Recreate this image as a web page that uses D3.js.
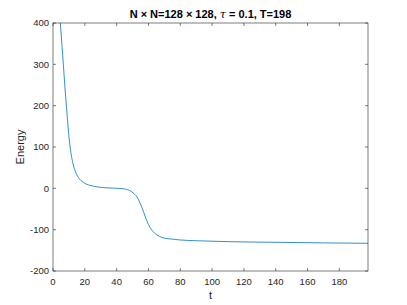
<!DOCTYPE html>
<html>
<head>
<meta charset="utf-8">
<script src="https://cdn.jsdelivr.net/npm/d3@7"></script>
<style>
  body { margin: 0; background: #fff; }
  text { font-family: "Liberation Sans", Arial, Helvetica, sans-serif; }
</style>
</head>
<body>
<svg width="407" height="305"></svg>
<script>
// energy curve
var times = [2, 4.6, 6.5, 7.5, 8.5, 9.5, 10.5, 11.5, 12.5, 13.5, 14.6, 16, 17.5, 19, 21, 25, 31, 38, 44, 48, 51, 53, 55, 57, 59, 61, 63, 65, 67, 70, 75.5, 80, 92, 110, 142, 170, 198]
var energy = [520, 400, 300, 245, 195, 148, 108, 80, 61, 47, 36, 26, 19, 14.5, 10, 5.5, 2, 0.5, -1, -5, -13, -22, -38, -58, -79, -95, -105, -112, -116.5, -120.5, -123, -125, -127, -129, -130.6, -132, -133]
var xTicks = [0, 20, 40, 60, 80, 100, 120, 140, 160, 180]
var yTicks = [-200, -100, 0, 100, 200, 300, 400]

var svg = d3.select("svg")
var pLeft = 53, pRight = 368, pTop = 23, pBottom = 271
var axisColor = "#262626"

var x = d3.scaleLinear().domain([0, 198]).range([pLeft, pRight])
var y = d3.scaleLinear().domain([-200, 400]).range([pBottom, pTop])

svg.append("defs").append("clipPath").attr("id", "clip")
    .append("rect")
    .attr("x", pLeft).attr("y", pTop)
    .attr("width", pRight - pLeft).attr("height", pBottom - pTop)

var pts = times.map(function(t, i) { return [t, energy[i]] })

var line = d3.line()
    .x(function(d) { return x(d[0]) })
    .y(function(d) { return y(d[1]) })
    .curve(d3.curveMonotoneX)

svg.append("path")
    .datum(pts)
    .attr("clip-path", "url(#clip)")
    .attr("fill", "none")
    .attr("stroke", "#0072BD")
    .attr("stroke-width", 0.8)
    .attr("d", line)

var tl = 3
var g = svg.append("g").attr("stroke", axisColor).attr("stroke-width", 0.6)

// box
g.append("rect")
    .attr("x", pLeft).attr("y", pTop)
    .attr("width", pRight - pLeft).attr("height", pBottom - pTop)
    .attr("fill", "none")

xTicks.forEach(function(t) {
    g.append("line").attr("x1", x(t)).attr("x2", x(t)).attr("y1", pBottom).attr("y2", pBottom - tl)
    g.append("line").attr("x1", x(t)).attr("x2", x(t)).attr("y1", pTop).attr("y2", pTop + tl)
})
yTicks.forEach(function(v) {
    g.append("line").attr("x1", pLeft).attr("x2", pLeft + tl).attr("y1", y(v)).attr("y2", y(v))
    g.append("line").attr("x1", pRight).attr("x2", pRight - tl).attr("y1", y(v)).attr("y2", y(v))
})

svg.selectAll(".xl").data(xTicks).enter().append("text")
    .attr("x", function(d) { return x(d) })
    .attr("y", 285)
    .attr("text-anchor", "middle")
    .attr("font-size", "9.5px")
    .attr("fill", axisColor)
    .text(function(d) { return d })

svg.selectAll(".yl").data(yTicks).enter().append("text")
    .attr("x", pLeft - 4)
    .attr("y", function(d) { return y(d) })
    .attr("dy", "0.35em")
    .attr("text-anchor", "end")
    .attr("font-size", "9.5px")
    .attr("fill", axisColor)
    .text(function(d) { return d })

svg.append("text")
    .attr("x", (pLeft + pRight) / 2)
    .attr("y", 299)
    .attr("text-anchor", "middle")
    .attr("font-size", "11px")
    .attr("fill", axisColor)
    .text("t")

svg.append("text")
    .attr("transform", "translate(24," + (pTop + pBottom) / 2 + ") rotate(-90)")
    .attr("text-anchor", "middle")
    .attr("font-size", "11px")
    .attr("fill", axisColor)
    .text("Energy")

var title = svg.append("text")
    .attr("x", (pLeft + pRight) / 2)
    .attr("y", 18)
    .attr("text-anchor", "middle")
    .attr("font-size", "11px")
    .attr("font-weight", "bold")
    .attr("fill", "#000")
title.append("tspan").text("N \u00d7 N=128 \u00d7 128, ")
title.append("tspan").attr("font-style", "italic").attr("font-family", "'DejaVu Serif', serif").attr("font-weight", "normal").text("\u03c4")
title.append("tspan").text(" = 0.1, T=198")
</script>
</body>
</html>
